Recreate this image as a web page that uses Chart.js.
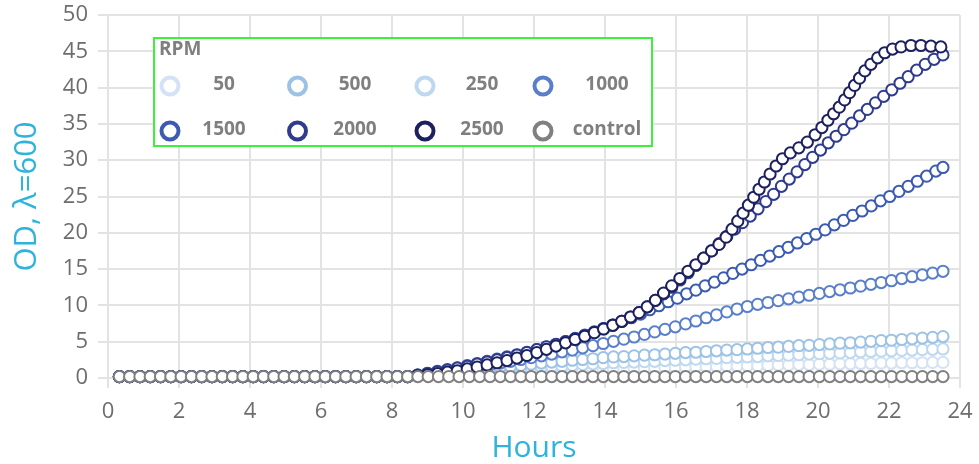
<!DOCTYPE html>
<html>
<head>
<meta charset="utf-8">
<title>OD600 growth curves</title>
<script src="https://cdn.jsdelivr.net/npm/chart.js@4.4.1/dist/chart.umd.min.js"></script>
<style>
  html, body { margin: 0; padding: 0; background: #ffffff; }
  #wrap { width: 979px; height: 464px; }
</style>
</head>
<body>
<div id="wrap"><canvas id="growth" width="979" height="464"></canvas></div>
<script>
// Sampling times (hours). Most cultures share the regular grid; the fast
// growers have denser readings where their curves climb steeply.
const hoursBase = [0.32, 0.61, 0.90, 1.19, 1.48, 1.77, 2.06, 2.35, 2.64, 2.93,
  3.22, 3.51, 3.80, 4.09, 4.38, 4.67, 4.96, 5.25, 5.54, 5.83,
  6.12, 6.41, 6.70, 6.99, 7.28, 7.57, 7.86, 8.15, 8.44, 8.73,
  9.02, 9.31, 9.60, 9.89, 10.18, 10.47, 10.76, 11.05, 11.34, 11.63,
  11.92, 12.21, 12.50, 12.79, 13.08, 13.37, 13.66, 13.95, 14.24, 14.53,
  14.82, 15.11, 15.40, 15.69, 15.98, 16.27, 16.56, 16.85, 17.14, 17.43,
  17.72, 18.01, 18.30, 18.59, 18.88, 19.17, 19.46, 19.75, 20.04, 20.33,
  20.62, 20.91, 21.20, 21.49, 21.78, 22.07, 22.36, 22.65, 22.94, 23.23, 23.52];

const hoursLag = [0.32, 0.61, 0.90, 1.19, 1.48, 1.77, 2.06, 2.35, 2.64, 2.93,
  3.22, 3.51, 3.80, 4.09, 4.38, 4.67, 4.96, 5.25, 5.54, 5.83,
  6.12, 6.41, 6.70, 6.99, 7.28, 7.57, 7.86, 8.15, 8.44];

const hours1500 = hoursLag.concat([8.72, 9.00, 9.28, 9.56, 9.84, 10.12, 10.40, 10.68, 10.96, 11.24,
  11.52, 11.80, 12.08, 12.35, 12.62, 12.89, 13.16, 13.43, 13.70, 13.96,
  14.22, 14.48, 14.74, 15.00, 15.26, 15.52, 15.78, 16.04, 16.30, 16.56,
  16.82, 17.08, 17.34, 17.60, 17.86, 18.12, 18.38, 18.64, 18.90, 19.16,
  19.42, 19.68, 19.94, 20.20, 20.46, 20.72, 20.98, 21.24, 21.50, 21.76,
  22.02, 22.28, 22.54, 22.80, 23.06, 23.32, 23.52]);

const hours2000 = hoursLag.concat([8.72, 9.00, 9.28, 9.56, 9.84, 10.12, 10.40, 10.68, 10.96, 11.24,
  11.52, 11.80, 12.08, 12.35, 12.62, 12.89, 13.16, 13.43, 13.70, 13.96,
  14.22, 14.47, 14.72, 14.96, 15.19, 15.42, 15.65, 15.88, 16.11, 16.34,
  16.56, 16.78, 17.00, 17.22, 17.43, 17.65, 17.87, 18.09, 18.31, 18.53,
  18.75, 18.97, 19.19, 19.41, 19.63, 19.85, 20.07, 20.29, 20.51, 20.73,
  20.95, 21.17, 21.39, 21.62, 21.85, 22.08, 22.31, 22.54, 22.78, 23.02,
  23.27, 23.52]);

const hours2500 = hoursLag.concat([8.72, 9.00, 9.28, 9.56, 9.84, 10.12, 10.40, 10.68, 10.96, 11.24,
  11.52, 11.80, 12.08, 12.35, 12.62, 12.89, 13.16, 13.43, 13.70, 13.96,
  14.22, 14.47, 14.72, 14.96, 15.19, 15.42, 15.65, 15.88, 16.11, 16.34,
  16.56, 16.78, 17.00, 17.21, 17.41, 17.58, 17.74, 17.89, 18.04, 18.19,
  18.34, 18.49, 18.65, 18.82, 19.00, 19.22, 19.46, 19.70, 19.92, 20.11,
  20.28, 20.44, 20.60, 20.75, 20.89, 21.03, 21.17, 21.32, 21.49, 21.68,
  21.88, 22.10, 22.34, 22.62, 22.90, 23.18, 23.46]);

// OD readings before growth starts (same for every culture)
const lagOD = [0.2, 0.2, 0.2, 0.2, 0.2, 0.2, 0.2, 0.2, 0.2, 0.2,
  0.2, 0.2, 0.2, 0.2, 0.2, 0.2, 0.2, 0.2, 0.2, 0.2,
  0.2, 0.2, 0.2, 0.2, 0.2, 0.2, 0.2, 0.2, 0.2];

const od50 = lagOD.concat([0.3, 0.35, 0.4, 0.45, 0.5, 0.55, 0.6, 0.65, 0.7, 0.75,
  0.8, 0.85, 0.9, 0.95, 1.0, 1.05, 1.1, 1.15, 1.2, 1.25,
  1.3, 1.35, 1.35, 1.4, 1.45, 1.45, 1.5, 1.55, 1.55, 1.6,
  1.65, 1.65, 1.7, 1.7, 1.75, 1.8, 1.8, 1.85, 1.85, 1.9,
  1.9, 1.95, 1.95, 2.0, 2.0, 2.05, 2.05, 2.1, 2.1, 2.1,
  2.15, 2.15]);

const od500 = lagOD.concat([0.4, 0.5, 0.65, 0.8, 0.9, 1.05, 1.2, 1.35, 1.5, 1.6,
  1.75, 1.9, 2.05, 2.2, 2.3, 2.45, 2.55, 2.65, 2.8, 2.9,
  2.95, 3.05, 3.15, 3.2, 3.3, 3.4, 3.5, 3.55, 3.65, 3.75,
  3.85, 3.9, 4.0, 4.1, 4.2, 4.25, 4.35, 4.45, 4.5, 4.6,
  4.7, 4.8, 4.85, 4.95, 5.05, 5.15, 5.2, 5.3, 5.4, 5.5,
  5.6, 5.7]);

const od250 = lagOD.concat([0.3, 0.4, 0.5, 0.6, 0.7, 0.8, 0.9, 1.0, 1.1, 1.2,
  1.3, 1.4, 1.5, 1.6, 1.65, 1.75, 1.85, 1.95, 2.0, 2.1,
  2.15, 2.2, 2.25, 2.3, 2.4, 2.45, 2.5, 2.6, 2.65, 2.7,
  2.8, 2.85, 2.9, 2.95, 3.05, 3.1, 3.15, 3.2, 3.3, 3.35,
  3.4, 3.45, 3.5, 3.6, 3.65, 3.7, 3.75, 3.8, 3.85, 3.9,
  3.95, 4.0]);

const od1000 = lagOD.concat([0.35, 0.55, 0.75, 0.95, 1.15, 1.35, 1.6, 1.8, 2.05, 2.3,
  2.55, 2.8, 3.05, 3.3, 3.6, 3.85, 4.15, 4.45, 4.75, 5.05,
  5.35, 5.65, 6.0, 6.35, 6.7, 7.05, 7.45, 7.85, 8.3, 8.7,
  9.1, 9.5, 9.85, 10.15, 10.4, 10.65, 10.9, 11.15, 11.4, 11.65,
  11.9, 12.15, 12.4, 12.65, 12.9, 13.15, 13.4, 13.7, 13.95, 14.2,
  14.45, 14.7]);

const od1500 = lagOD.concat([0.4, 0.65, 0.9, 1.15, 1.4, 1.7, 2.0, 2.3, 2.6, 2.9,
  3.2, 3.55, 3.9, 4.25, 4.6, 5.0, 5.45, 5.9, 6.35, 6.8,
  7.3, 7.8, 8.3, 8.8, 9.4, 9.95, 10.5, 11.0, 11.6, 12.1,
  12.7, 13.2, 13.8, 14.4, 15.0, 15.6, 16.2, 16.8, 17.4, 18.0,
  18.6, 19.2, 19.8, 20.4, 21.1, 21.7, 22.4, 23.0, 23.7, 24.4,
  25.0, 25.7, 26.4, 27.1, 27.8, 28.5, 29.0]);

const od2000 = lagOD.concat([0.4, 0.6, 0.85, 1.1, 1.35, 1.6, 1.9, 2.2, 2.5, 2.8,
  3.15, 3.5, 3.9, 4.3, 4.65, 5.0, 5.4, 5.85, 6.3, 6.8,
  7.3, 7.8, 8.4, 9.0, 9.8, 10.7, 11.6, 12.5, 13.5, 14.5,
  15.5, 16.5, 17.5, 18.5, 19.5, 20.5, 21.4, 22.3, 23.3, 24.3,
  25.3, 26.4, 27.4, 28.4, 29.4, 30.4, 31.4, 32.4, 33.3, 34.2,
  35.1, 36.1, 37.0, 37.9, 38.8, 39.7, 40.6, 41.5, 42.4, 43.2,
  43.9, 44.5]);

const od2500 = lagOD.concat([0.3, 0.45, 0.6, 0.8, 1.0, 1.25, 1.5, 1.8, 2.1, 2.4,
  2.75, 3.1, 3.5, 3.95, 4.4, 4.85, 5.3, 5.75, 6.25, 6.75,
  7.25, 7.8, 8.4, 9.0, 9.8, 10.7, 11.7, 12.7, 13.7, 14.7,
  15.6, 16.5, 17.5, 18.4, 19.4, 20.5, 21.6, 22.7, 23.8, 24.9,
  26.0, 27.0, 28.1, 29.2, 30.2, 31.0, 31.7, 32.5, 33.5, 34.5,
  35.5, 36.4, 37.3, 38.3, 39.3, 40.3, 41.3, 42.3, 43.2, 44.1,
  44.8, 45.3, 45.6, 45.8, 45.8, 45.7, 45.6]);

const odControl = [0.2, 0.2, 0.2, 0.2, 0.2, 0.2, 0.2, 0.2, 0.2, 0.2,
  0.2, 0.2, 0.2, 0.2, 0.2, 0.2, 0.2, 0.2, 0.2, 0.2,
  0.2, 0.2, 0.2, 0.2, 0.2, 0.2, 0.2, 0.2, 0.2, 0.2,
  0.2, 0.2, 0.2, 0.2, 0.2, 0.2, 0.2, 0.2, 0.2, 0.2,
  0.2, 0.2, 0.2, 0.2, 0.2, 0.2, 0.2, 0.2, 0.2, 0.2,
  0.2, 0.2, 0.2, 0.2, 0.2, 0.2, 0.2, 0.2, 0.2, 0.2,
  0.2, 0.2, 0.2, 0.2, 0.2, 0.2, 0.2, 0.2, 0.2, 0.2,
  0.2, 0.2, 0.2, 0.2, 0.2, 0.2, 0.2, 0.2, 0.2, 0.2, 0.2];

const seriesLabels = ['50', '500', '250', '1000', '1500', '2000', '2500', 'control'];
const seriesColors = ['#d3e2f4', '#9cc2e6', '#bed8f0', '#5a7fca', '#3b5ab2', '#2f3b8c', '#1d205e', '#808080'];
const seriesHours = [hoursBase, hoursBase, hoursBase, hoursBase, hours1500, hours2000, hours2500, hoursBase];
const seriesOD = [od50, od500, od250, od1000, od1500, od2000, od2500, odControl];
// draw priority: lower order is painted last (on top)
const seriesOrder = [7, 5, 6, 4, 3, 2, 1, 0];

const FONT = "'Open Sans', 'Noto Sans', sans-serif";
const GRID = '#e3e3e3';
const AXIS_TEXT = '#6d6d6d';
const TITLE_BLUE = '#2db3dc';

const datasets = seriesLabels.map((label, i) => ({
  label: label,
  data: seriesHours[i].map((h, j) => ({ x: h, y: seriesOD[i][j] })),
  borderColor: seriesColors[i],
  backgroundColor: '#ffffff',
  pointBackgroundColor: '#ffffff',
  pointBorderColor: seriesColors[i],
  pointBorderWidth: 2,
  pointRadius: 5.6,
  pointHoverRadius: 5.6,
  showLine: false,
  clip: false,
  order: seriesOrder[i]
}));

// Boxed "RPM" legend laid out as two rows of four entries
const rpmLegend = {
  id: 'rpmLegend',
  afterDraw(chart) {
    const ctx = chart.ctx;
    const box = { x: 154, y: 38, w: 498, h: 108 };
    const markerX = [170, 297.5, 425, 543];
    const labelX = [224, 355, 482, 607];
    const rowY = [86, 131];
    ctx.save();
    ctx.fillStyle = '#ffffff';
    ctx.fillRect(box.x, box.y, box.w, box.h);
    ctx.strokeStyle = '#3cf03c';
    ctx.lineWidth = 2;
    ctx.strokeRect(box.x, box.y, box.w, box.h);

    ctx.fillStyle = '#7f7f7f';
    ctx.font = "bold 19px " + FONT;
    ctx.textAlign = 'left';
    ctx.textBaseline = 'middle';
    ctx.fillText('RPM', 159, 50);

    chart.data.datasets.forEach((ds, i) => {
      const col = i % 4;
      const row = Math.floor(i / 4);
      ctx.beginPath();
      ctx.arc(markerX[col], rowY[row], 8.5, 0, Math.PI * 2);
      ctx.fillStyle = '#ffffff';
      ctx.fill();
      ctx.lineWidth = 4;
      ctx.strokeStyle = ds.pointBorderColor;
      ctx.stroke();
      ctx.fillStyle = '#7f7f7f';
      ctx.font = "bold 19px " + FONT;
      ctx.textAlign = 'center';
      ctx.fillText(ds.label, labelX[col], rowY[row] - 1);
    });
    ctx.restore();
  }
};

new Chart(document.getElementById('growth'), {
  type: 'scatter',
  data: { datasets: datasets },
  plugins: [rpmLegend],
  options: {
    responsive: false,
    animation: false,
    layout: { padding: { top: 15, right: 19, left: 0, bottom: 0 } },
    plugins: {
      legend: { display: false },
      tooltip: { enabled: false }
    },
    scales: {
      x: {
        type: 'linear',
        min: 0,
        max: 24,
        ticks: { stepSize: 2, color: AXIS_TEXT, font: { family: FONT, size: 22 }, padding: 11 },
        grid: { color: GRID, lineWidth: 2, tickLength: 10 },
        border: { color: GRID, width: 2 },
        title: {
          display: true,
          text: 'Hours',
          color: TITLE_BLUE,
          font: { family: FONT, size: 30, lineHeight: 1 },
          padding: { top: 0, bottom: 1 }
        },
        afterFit(scale) {
          scale.height = 86;
          scale.paddingLeft = 0;
          scale.paddingRight = 0;
        }
      },
      y: {
        min: 0,
        max: 50,
        ticks: { stepSize: 5, color: AXIS_TEXT, font: { family: FONT, size: 22 }, padding: 10 },
        grid: { color: GRID, lineWidth: 2, tickLength: 10 },
        border: { color: GRID, width: 2 },
        title: {
          display: true,
          text: 'OD, λ=600',
          color: TITLE_BLUE,
          font: { family: FONT, size: 31, lineHeight: 1.2 },
          padding: { top: 9, bottom: 0 }
        },
        afterFit(scale) {
          scale.width = 108;
          scale.paddingTop = 0;
          scale.paddingBottom = 0;
        }
      }
    }
  }
});
</script>
</body>
</html>
